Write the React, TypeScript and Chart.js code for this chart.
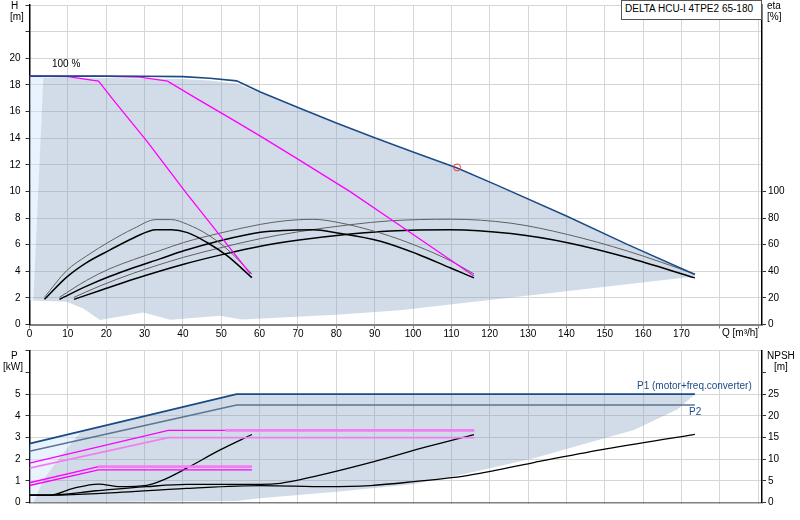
import React, { useEffect, useRef } from 'react';
import { Chart, registerables } from 'chart.js';

Chart.register(...registerables);

Chart.defaults.font.family = "'Liberation Sans', Arial, sans-serif";
Chart.defaults.font.size = 10;
Chart.defaults.color = '#000';

// ---- upper diagram: head H [m] and efficiency eta [%] over flow Q [m3/h]

// max speed curve (100 %)
const maxQ = [0, 20, 30, 40, 47, 54, 60.2, 70, 80, 90, 100, 111.5, 122, 140, 156, 173.5];
const maxH = [18.66, 18.66, 18.65, 18.62, 18.5, 18.3, 17.47, 16.3, 15.13, 14.02, 12.95, 11.75, 10.45, 8.15, 6.0, 3.75];

// reduced speed curves (magenta)
const slowAQ = [0, 10, 18, 21.9, 30.6, 41, 51.5, 57.6];
const slowAH = [18.66, 18.62, 18.28, 16.85, 13.78, 9.83, 6.02, 3.8];
const slowBQ = [0, 20, 28.8, 36, 43.6, 52.3, 60.2, 70.4, 83.6, 96.6, 115.9];
const slowBH = [18.66, 18.64, 18.58, 18.28, 16.97, 15.5, 14.15, 12.35, 9.98, 7.44, 3.64];

// efficiency curves, three pairs (thin grey + black)
const eta1Q = [3.9, 9.7, 14.9, 21, 27.1, 33, 37, 41.2, 46.3, 51.5, 58];
const eta1Grey = [20.4, 40.5, 51.5, 62.5, 72, 78.8, 78.8, 75.2, 67.8, 56.7, 38];
const eta1Black = [18.9, 35.6, 46.5, 56, 65, 71.2, 71.2, 69, 61.6, 51.7, 35.2];

const eta2Q = [7.8, 14.9, 21, 27.1, 34, 40.2, 50.2, 60.2, 66.3, 74, 80.2, 91.5, 101.1, 109.8, 115.9];
const eta2Grey = [20.4, 33.2, 42, 48.7, 55.5, 61.6, 69, 75.2, 77.8, 79, 76.8, 68.7, 58.9, 47.8, 38];
const eta2Black = [18.9, 28.8, 36.2, 42.6, 49.3, 55.4, 63.3, 69.3, 70.7, 71.1, 68.8, 62.6, 53, 42.4, 35];

const eta3Q = [11.6, 18.4, 27.1, 40.2, 50.2, 60.2, 69.8, 83.7, 94.1, 109.8, 125.5, 140.3, 155.9, 173.5];
const eta3Grey = [20.4, 29, 38.5, 50.5, 57.9, 64.5, 69.5, 75, 77.9, 79.1, 76.1, 67.6, 55.2, 38];
const eta3Black = [18.9, 25.5, 34, 45.3, 52.5, 58.8, 63.2, 68, 70.3, 71.2, 68.3, 61.4, 50.3, 35];

// duty point
const dutyQ = [111.5];
const dutyH = [11.8];

// operating range (shaded area) and the pale strip on the left
const rangeQ = [3.6, 20, 40, 47, 54, 60.2, 70, 80, 90, 100, 111.5, 122, 140, 156, 173.5, 173.5, 96.6, 80, 55.4, 49.7, 36.7, 29.7, 18.4, 14, 9.7, 1.0, 3.6];
const rangeH = [18.55, 18.52, 18.45, 18.33, 18.1, 17.4, 16.25, 15.08, 13.97, 12.9, 11.7, 10.4, 8.1, 5.95, 3.72, 3.6, 1.07, 0.74, 0.37, 0.65, 0.35, 0.9, 0.34, 1.2, 1.7, 1.8, 18.55];
const paleQ = [0, 3.6, 1.0, 0];
const paleH = [18.66, 18.6, 1.8, 1.8];

// ---- lower diagram: power P [kW] and NPSH [m] over Q

const p1Q = [0, 54, 173.5];
const p1P = [2.72, 5.0, 5.0];
const p2Q = [0, 54, 173.5];
const p2P = [2.37, 4.5, 4.5];

const powBUpQ = [0, 36.2, 51, 116];
const powBUpP = [1.82, 3.33, 3.33, 3.33];
const powBLowQ = [0, 36.2, 116];
const powBLowP = [1.59, 3.0, 3.0];
const powAUpQ = [0, 18, 58];
const powAUpP = [0.92, 1.66, 1.66];
const powALowQ = [0, 18, 58];
const powALowP = [0.79, 1.51, 1.51];

const npsh1Q = [0, 5.4, 11.4, 18, 23.6, 30.6, 34.9, 41, 49.7, 58];
const npsh1 = [1.75, 1.75, 3.3, 4.3, 3.7, 4.0, 5.25, 7.95, 12.15, 15.7];
const npsh2Q = [0, 5.4, 17.5, 30.6, 41, 60.2, 65.4, 74.1, 89.8, 103.7, 115.9];
const npsh2 = [1.75, 1.75, 2.75, 3.7, 4.2, 4.2, 4.45, 6.0, 9.45, 12.9, 15.7];
const npsh3Q = [0, 5.4, 17.5, 41, 60.2, 77.6, 88.9, 100.2, 114.1, 131.5, 148.9, 173.5];
const npsh3 = [1.75, 1.75, 2.1, 3.3, 3.95, 3.7, 3.95, 4.85, 6.25, 9.25, 12.15, 15.75];

const rangePQ = [13.6, 54, 173.5, 169, 157.6, 144.6, 131.5, 114, 100, 80, 60, 54, 30, 1, 3.6, 8, 13.6];
const rangeP = [3.29, 5.0, 5.0, 4.3, 3.35, 2.7, 2.05, 1.35, 0.85, 0.5, 0.2, 0.08, 0.05, 0, 1.05, 2.12, 3.29];
const palePQ = [0, 13.6, 8, 3.6, 1, 0];
const paleP = [2.72, 3.29, 2.12, 1.05, 0, 0];

const GRID = '#d6d6d6';
const SHADE = 'rgba(120,152,188,0.34)';
const PALE = 'rgba(205,228,250,0.45)';
const MAGENTA = '#ff00ff';
const PINK = '#f27ef2';
const DARKBLUE = '#1b4b86';

const pts = (xs: number[], ys: number[]) => xs.map((x, i) => ({ x, y: ys[i] }));

const line = (data: any, color: string, width: number, extra: any = {}) => ({
  type: 'line',
  data,
  borderColor: color,
  borderWidth: width,
  pointRadius: 0,
  fill: false,
  tension: 0,
  order: 1,
  ...extra,
});

const area = (data: any, color: string, yAxisID: string) => ({
  type: 'line',
  data,
  yAxisID,
  borderWidth: 0,
  borderColor: 'transparent',
  backgroundColor: color,
  pointRadius: 0,
  fill: 'shape',
  tension: 0,
  order: 10,
});

const fixW = (w: number) => (s: any) => {
  s.width = w;
  s.paddingTop = 0;
  s.paddingBottom = 0;
};
const fixH = (h: number) => (s: any) => {
  s.height = h;
  s.paddingLeft = 0;
  s.paddingRight = 0;
};

const xScale = (showTicks: boolean, height: number) => ({
  type: 'linear',
  min: 0,
  max: 191,
  afterFit: fixH(height),
  border: { color: '#808080', width: showTicks ? 2 : 1.5 },
  grid: { color: GRID, tickLength: showTicks ? 4 : 0, tickColor: '#808080' },
  ticks: {
    display: showTicks,
    stepSize: 10,
    includeBounds: false,
    maxRotation: 0,
    autoSkip: false,
    padding: 0,
    callback: (v: number) => (v <= 170 ? v : ''),
  },
});

const baseOptions = {
  responsive: true,
  maintainAspectRatio: false,
  animation: false,
  events: [],
  plugins: { legend: { display: false }, tooltip: { enabled: false } },
};

function HeadChart() {
  const canvasRef = useRef<HTMLCanvasElement | null>(null);

  useEffect(() => {
    if (!canvasRef.current) return;
    const monotone = { cubicInterpolationMode: 'monotone', yAxisID: 'eta' };
    const chart = new Chart(canvasRef.current, {
      type: 'line',
      data: {
        datasets: [
          area(pts(rangeQ, rangeH), SHADE, 'y'),
          area(pts(paleQ, paleH), PALE, 'y'),
          line(pts(maxQ, maxH), DARKBLUE, 1.6),
          line(pts(slowAQ, slowAH), MAGENTA, 1.3),
          line(pts(slowBQ, slowBH), MAGENTA, 1.3),
          line(pts(eta1Q, eta1Grey), '#5f5f5f', 1, monotone),
          line(pts(eta1Q, eta1Black), '#000', 1.5, monotone),
          line(pts(eta2Q, eta2Grey), '#5f5f5f', 1, monotone),
          line(pts(eta2Q, eta2Black), '#000', 1.5, monotone),
          line(pts(eta3Q, eta3Grey), '#5f5f5f', 1, monotone),
          line(pts(eta3Q, eta3Black), '#000', 1.5, monotone),
          {
            type: 'line',
            data: pts(dutyQ, dutyH),
            showLine: false,
            pointRadius: 3.5,
            pointBorderWidth: 1,
            pointBorderColor: '#ff3030',
            pointBackgroundColor: 'rgba(255,255,255,0)',
            order: 0,
          },
        ] as any,
      },
      options: {
        ...baseOptions,
        scales: {
          x: xScale(true, 20.5),
          y: {
            type: 'linear',
            position: 'left',
            min: 0,
            max: 24,
            afterFit: fixW(29.5),
            border: { color: '#000', width: 1.5 },
            grid: { color: GRID, tickLength: 4, tickColor: '#333' },
            ticks: { stepSize: 2, padding: 5, callback: (v: number) => (v <= 20 ? v : '') },
          },
          eta: {
            type: 'linear',
            position: 'right',
            min: 0,
            max: 240,
            afterFit: fixW(38),
            afterBuildTicks: (s: any) => {
              s.ticks = s.ticks.filter((t: any) => t.value <= 100);
            },
            border: { color: '#000', width: 1.5 },
            grid: { drawOnChartArea: false, tickLength: 4, tickColor: '#333' },
            ticks: { stepSize: 20, padding: 2 },
          },
        },
      } as any,
    });
    return () => chart.destroy();
  }, []);

  return (
    <div style={{ position: 'absolute', left: 0, top: 0, width: 800, height: 345 }}>
      <canvas ref={canvasRef}></canvas>
    </div>
  );
}

function PowerChart() {
  const canvasRef = useRef<HTMLCanvasElement | null>(null);

  useEffect(() => {
    if (!canvasRef.current) return;
    const npsh = { cubicInterpolationMode: 'monotone', yAxisID: 'npsh' };
    const pinkTail = (from: number) => ({
      segment: {
        borderColor: (c: any) => (c.p0.parsed.x >= from ? PINK : MAGENTA),
        borderWidth: (c: any) => (c.p0.parsed.x >= from ? 2.6 : 1.4),
      },
    });
    const chart = new Chart(canvasRef.current, {
      type: 'line',
      data: {
        datasets: [
          area(pts(rangePQ, rangeP), SHADE, 'y'),
          area(pts(palePQ, paleP), PALE, 'y'),
          line(pts(p1Q, p1P), DARKBLUE, 1.8),
          line(pts(p2Q, p2P), '#5c7391', 1.4),
          line(pts(powBUpQ, powBUpP), MAGENTA, 1.4, pinkTail(51)),
          line(pts(powBLowQ, powBLowP), PINK, 1.8),
          line(pts(powAUpQ, powAUpP), MAGENTA, 1.4, pinkTail(18)),
          line(pts(powALowQ, powALowP), MAGENTA, 1.4),
          line(pts(npsh1Q, npsh1), '#000', 1.3, npsh),
          line(pts(npsh2Q, npsh2), '#000', 1.3, npsh),
          line(pts(npsh3Q, npsh3), '#000', 1.3, npsh),
        ] as any,
      },
      options: {
        ...baseOptions,
        layout: { padding: { top: 5.7 } },
        scales: {
          x: xScale(false, 17.3),
          y: {
            type: 'linear',
            position: 'left',
            min: 0,
            max: 7,
            afterFit: fixW(29.5),
            border: { color: '#000', width: 1.5 },
            grid: {
              color: (c: any) => (c.tick && c.tick.value === 6 ? 'rgba(0,0,0,0)' : GRID),
              tickLength: 4,
              tickColor: '#333',
            },
            ticks: { stepSize: 1, padding: 5, callback: (v: number) => (v <= 5 ? v : '') },
          },
          npsh: {
            type: 'linear',
            position: 'right',
            min: 0,
            max: 35,
            afterFit: fixW(38),
            afterBuildTicks: (s: any) => {
              s.ticks = s.ticks.filter((t: any) => t.value <= 30);
            },
            border: { color: '#000', width: 1.5 },
            grid: { drawOnChartArea: false, tickLength: 4, tickColor: '#333' },
            ticks: { stepSize: 5, padding: 2, callback: (v: number) => (v <= 25 ? v : '') },
          },
        },
      } as any,
    });
    return () => chart.destroy();
  }, []);

  return (
    <div style={{ position: 'absolute', left: 0, top: 345, width: 800, height: 175 }}>
      <canvas ref={canvasRef}></canvas>
    </div>
  );
}

const txt = (left: number, top: number, extra: React.CSSProperties = {}): React.CSSProperties => ({
  position: 'absolute',
  left,
  top,
  fontSize: 10,
  lineHeight: '12px',
  whiteSpace: 'nowrap',
  color: '#000',
  ...extra,
});

export default function App() {
  return (
    <div
      style={{
        position: 'fixed',
        left: 0,
        top: 0,
        width: 800,
        height: 520,
        background: '#fff',
        overflow: 'hidden',
        fontFamily: "'Liberation Sans', Arial, sans-serif",
      }}
    >
      <HeadChart />
      <PowerChart />
      <div style={txt(11, 0)}>H</div>
      <div style={txt(10, 11)}>[m]</div>
      <div style={txt(52, 58)}>100 %</div>
      <div
        style={txt(621, 0, {
          width: 141,
          height: 20,
          boxSizing: 'border-box',
          border: '1px solid #555',
          background: '#fff',
          paddingLeft: 3,
          lineHeight: '16px',
        })}
      >
        DELTA HCU-I 4TPE2 65-180
      </div>
      <div style={txt(767, 0)}>eta</div>
      <div style={txt(767, 11)}>[%]</div>
      <div style={txt(722, 327)}>Q [m³/h]</div>
      <div style={txt(11, 350)}>P</div>
      <div style={txt(3, 361)}>[kW]</div>
      <div style={txt(767, 350)}>NPSH</div>
      <div style={txt(774, 361)}>[m]</div>
      <div style={txt(637, 380, { color: DARKBLUE })}>P1 (motor+freq.converter)</div>
      <div style={txt(689, 406, { color: DARKBLUE })}>P2</div>
    </div>
  );
}
